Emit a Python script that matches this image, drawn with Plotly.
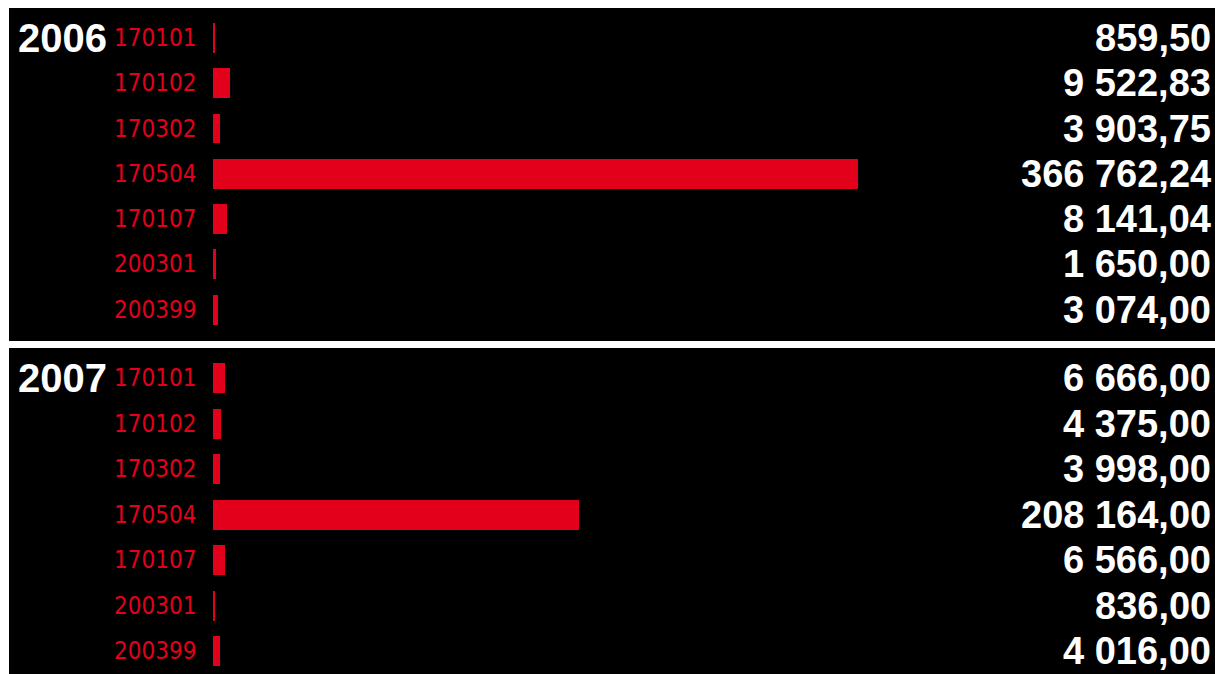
import plotly.graph_objects as go

categories = ["170101", "170102", "170302", "170504", "170107", "200301", "200399"]
years = ["2006", "2007"]
values_2006 = [859.50, 9522.83, 3903.75, 366762.24, 8141.04, 1650.00, 3074.00]
values_2007 = [6666.00, 4375.00, 3998.00, 208164.00, 6566.00, 836.00, 4016.00]

RED = "#e2001a"
W, H = 1215, 674
LABEL_FONT = "DejaVu Sans Condensed, sans-serif"
BOLD_FONT = "Liberation Sans, Arial, Helvetica, sans-serif"


def fmt(v):
    s = f"{v:,.2f}"
    return s.replace(",", " ").replace(".", ",")


fig = go.Figure()
series = [values_2006, values_2007]
axes = [("x", "y"), ("x2", "y2")]
pos = list(range(len(categories)))

for (xa, ya), vals in zip(axes, series):
    fig.add_trace(go.Bar(
        x=vals, y=pos, orientation="h", xaxis=xa, yaxis=ya,
        marker=dict(color=RED, line=dict(width=0)), width=0.66,
        hoverinfo="skip", showlegend=False,
    ))

xrange = [-116000, 569700]
xdom = [9 / W, 1.0]
fig.update_layout(
    width=W, height=H,
    margin=dict(l=0, r=0, t=0, b=0),
    paper_bgcolor="white", plot_bgcolor="black",
    bargap=0,
    xaxis=dict(domain=xdom, range=xrange, visible=False, fixedrange=True),
    xaxis2=dict(domain=xdom, range=xrange, visible=False, fixedrange=True, anchor="y2"),
    yaxis=dict(domain=[1 - 341 / H, 1 - 8 / H], range=[6.69, -0.66], visible=False, anchor="x"),
    yaxis2=dict(domain=[0, 1 - 348 / H], range=[6.5, -0.66], visible=False, anchor="x2"),
)

annotations = []
for (xa, ya), vals, yr in zip(axes, series, years):
    annotations.append(dict(
        x=16 / W, xref="paper", y=0, yref=ya, text=f"<b>{yr}</b>",
        xanchor="left", yanchor="middle", showarrow=False,
        font=dict(family=BOLD_FONT, size=40, color="white"),
    ))
    for i, (c, v) in enumerate(zip(categories, vals)):
        annotations.append(dict(
            x=0, xref=xa, y=i, yref=ya, text=c, xanchor="right", yanchor="middle",
            xshift=-15, showarrow=False,
            font=dict(family=LABEL_FONT, size=24, color=RED),
        ))
        annotations.append(dict(
            x=1, xref="paper", y=i, yref=ya, text=f"<b>{fmt(v)}</b>",
            xanchor="right", yanchor="middle", xshift=-2, showarrow=False,
            font=dict(family=BOLD_FONT, size=38, color="white"),
        ))
fig.update_layout(annotations=annotations)

fig.write_html("out.html")
